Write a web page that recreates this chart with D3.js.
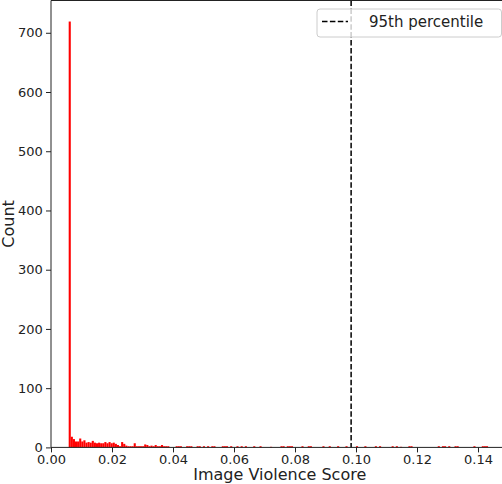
<!DOCTYPE html>
<html>
<head>
<meta charset="utf-8">
<script src="https://cdn.jsdelivr.net/npm/d3@7"></script>
<style>
  body { margin: 0; background: #fff; }
  svg { display: block; font-family: "DejaVu Sans", sans-serif; }
</style>
</head>
<body>
<svg width="502" height="484"></svg>
<script>
// Histogram of image violence scores (200 bins between the min and max score)
const binStart = 0.0058;
const binEnd = 0.1433;
const counts = [
  719, 18, 14, 10, 10, 15, 10, 12, 8, 9, 8, 11, 8, 7, 8, 7, 7, 9, 7, 9,
  7, 8, 6, 4, 2, 9, 6, 3, 2, 2, 2, 7, 2, 2, 2, 2, 5, 4, 2, 3,
  2, 4, 2, 2, 4, 2, 2, 2, 0, 0, 0, 2, 2, 2, 0, 0, 2, 2, 2, 0,
  0, 2, 2, 0, 2, 0, 2, 0, 2, 2, 0, 0, 0, 2, 2, 2, 0, 2, 0, 0,
  2, 0, 2, 0, 2, 0, 0, 0, 2, 0, 0, 2, 0, 0, 0, 0, 1, 0, 0, 0,
  0, 2, 2, 0, 2, 2, 2, 0, 0, 0, 0, 2, 0, 0, 2, 2, 0, 0, 0, 0,
  0, 2, 0, 0, 2, 0, 0, 0, 2, 0, 0, 0, 2, 0, 0, 0, 0, 2, 0, 0,
  0, 2, 0, 0, 0, 0, 2, 0, 2, 0, 0, 0, 0, 0, 2, 0, 2, 0, 1, 0,
  0, 0, 2, 2, 0, 0, 0, 0, 0, 0, 0, 0, 0, 0, 0, 0, 2, 0, 2, 2,
  0, 2, 0, 0, 2, 2, 0, 0, 0, 0, 0, 0, 0, 2, 0, 0, 0, 2, 2, 2
];
const percentile95 = 0.0984;
const xTicks = [0, 0.02, 0.04, 0.06, 0.08, 0.10, 0.12, 0.14];
const yTicks = [0, 100, 200, 300, 400, 500, 600, 700];

const svg = d3.select("svg");
const margin = { left: 51, top: 0.5, right: 508.5, bottom: 447.4 };

const x = d3.scaleLinear().domain([0, 0.15]).range([margin.left, margin.right]);
const y = d3.scaleLinear().domain([0, 754.5]).range([margin.bottom, margin.top]);

// bins
const step = (binEnd - binStart) / counts.length;
const bins = counts.map((c, i) => ({ x0: binStart + i * step, x1: binStart + (i + 1) * step, c }));

svg.append("g")
  .selectAll("rect")
  .data(bins.filter(d => d.c > 0))
  .join("rect")
  .attr("x", d => x(d.x0))
  .attr("width", d => x(d.x1) - x(d.x0))
  .attr("y", d => y(d.c))
  .attr("height", d => y(0) - y(d.c))
  .attr("fill", "red");

// percentile line
svg.append("line")
  .attr("x1", x(percentile95)).attr("x2", x(percentile95))
  .attr("y1", y.range()[1]).attr("y2", y(0))
  .attr("stroke", "#000")
  .attr("stroke-width", 1.5)
  .attr("stroke-dasharray", "5.5,2.4");

// axes
const xAxis = svg.append("g")
  .attr("transform", `translate(0,${margin.bottom})`)
  .call(d3.axisBottom(x).tickValues(xTicks).tickFormat(d3.format(".2f")).tickSize(5).tickPadding(2));
const yAxis = svg.append("g")
  .attr("transform", `translate(${margin.left},0)`)
  .call(d3.axisLeft(y).tickValues(yTicks).tickFormat(d3.format("d")).tickSize(5).tickPadding(3.3));

[xAxis, yAxis].forEach(g => {
  g.select(".domain").remove();
  g.selectAll("line").attr("stroke", "#222").attr("stroke-width", 1);
  g.selectAll("text").attr("fill", "#222").style("font-size", "13px").style("font-family", "DejaVu Sans");
});

// spines (left, bottom, top; right one falls outside the picture)
svg.append("path")
  .attr("d", `M${margin.right},${margin.top}H${margin.left}V${margin.bottom}H${margin.right}`)
  .attr("fill", "none")
  .attr("stroke", "#222")
  .attr("stroke-width", 1);

// axis labels
svg.append("text")
  .attr("x", (margin.left + margin.right) / 2)
  .attr("y", 479.5)
  .attr("text-anchor", "middle")
  .style("font-size", "16px")
  .attr("fill", "#222")
  .text("Image Violence Score");

svg.append("text")
  .attr("transform", `translate(13.5,${(margin.top + margin.bottom) / 2}) rotate(-90)`)
  .attr("text-anchor", "middle")
  .style("font-size", "16px")
  .attr("fill", "#222")
  .text("Count");

// legend
const legend = svg.append("g");
legend.append("rect")
  .attr("x", 317).attr("y", 9)
  .attr("width", 184.5).attr("height", 28)
  .attr("rx", 3)
  .attr("fill", "#fff").attr("fill-opacity", 0.8)
  .attr("stroke", "#ccc");
legend.append("line")
  .attr("x1", 322).attr("x2", 348)
  .attr("y1", 21.5).attr("y2", 21.5)
  .attr("stroke", "#000")
  .attr("stroke-width", 1.5)
  .attr("stroke-dasharray", "5.5,2.4");
legend.append("text")
  .attr("x", 369).attr("y", 27)
  .style("font-size", "15px")
  .attr("fill", "#222")
  .text("95th percentile");
</script>
</body>
</html>
